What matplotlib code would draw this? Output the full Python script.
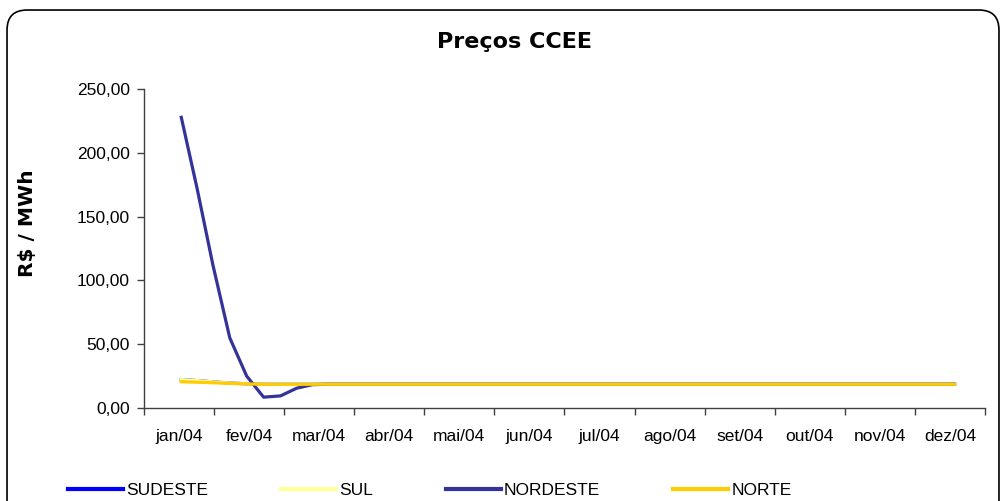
import numpy as np
import pandas as pd
import matplotlib
matplotlib.use("Agg")
import matplotlib.pyplot as plt
from matplotlib.patches import FancyBboxPatch

# semanas operativas (sábado) de 2004
semanas = pd.date_range("2004-01-17", "2004-12-18", freq="7D")
meses = ["jan/04", "fev/04", "mar/04", "abr/04", "mai/04", "jun/04",
         "jul/04", "ago/04", "set/04", "out/04", "nov/04", "dez/04"]

n = len(semanas)
piso = 18.59
sudeste = [22.3, 21.5, 20.5, 19.6, 19.0] + [piso] * (n - 5)
sul = [22.3, 21.5, 20.5, 19.6, 19.0] + [piso] * (n - 5)
nordeste = [227.8, 172.0, 112.0, 55.0, 25.0, 8.5, 9.5, 15.5, 18.3] + [piso] * (n - 9)
norte = [20.6, 20.2, 19.8, 19.3, 18.9] + [piso] * (n - 5)

# posição em meses (eixo de datas, rótulos entre marcas)
x = np.array([d.month - 1 + (d.day - 0.5) / d.days_in_month for d in semanas])

plt.rcParams['font.family'] = ['Liberation Sans', 'DejaVu Sans']

fig = plt.figure(figsize=(10.04, 5.01), dpi=100)
ax = fig.add_axes([0.1434, 0.1856, 0.8377, 0.6368])

lw = 2.3
ax.plot(x, sudeste, color="#0000FF", lw=lw, label="SUDESTE")
ax.plot(x, sul, color="#FFFF99", lw=lw, label="SUL")
ax.plot(x, nordeste, color="#333399", lw=lw, label="NORDESTE")
ax.plot(x, norte, color="#FFCC00", lw=lw, label="NORTE")

ax.set_xlim(0, 12)
ax.set_ylim(0, 250)
ax.set_yticks(np.arange(0, 251, 50))
ax.set_yticklabels([f"{v:.2f}".replace(".", ",") for v in np.arange(0, 251, 50)])
ax.set_xticks(np.arange(0, 13))
ax.set_xticklabels([])
ax.set_xticks(np.arange(12) + 0.5, minor=True)
ax.set_xticklabels(meses, minor=True)
ax.tick_params(axis="x", which="minor", length=0, pad=15, labelsize=12.5)
ax.tick_params(axis="x", which="major", length=5, width=1, color="#404040")
ax.tick_params(axis="y", length=5, width=1, color="#404040", labelsize=12.5, pad=5)

for s in ["top", "right"]:
    ax.spines[s].set_visible(False)
for s in ["left", "bottom"]:
    ax.spines[s].set_color("#404040")
    ax.spines[s].set_linewidth(1)

fig.text(0.027, 0.555, "R$ / MWh", rotation=90, ha="center", va="center",
         fontsize=14.5, fontweight="bold", family="DejaVu Sans")

fig.text(0.512, 0.916, "Preços CCEE", ha="center", va="center",
         fontsize=16, fontweight="bold", family="DejaVu Sans")

leg = fig.legend(loc="center left", bbox_to_anchor=(0.059, 0.021), ncol=4,
                 frameon=False, fontsize=12.5, handlelength=3.15, borderpad=0,
                 handletextpad=0.2, columnspacing=4.2)
for line in leg.get_lines():
    line.set_linewidth(3)

border = FancyBboxPatch((0.007, -0.05), 0.988, 1.03,
                        boxstyle="round,pad=0,rounding_size=0.02",
                        transform=fig.transFigure, fill=False,
                        edgecolor="black", linewidth=1.2, mutation_aspect=2.0)
fig.patches.append(border)

fig.savefig("out.png", dpi=100)
